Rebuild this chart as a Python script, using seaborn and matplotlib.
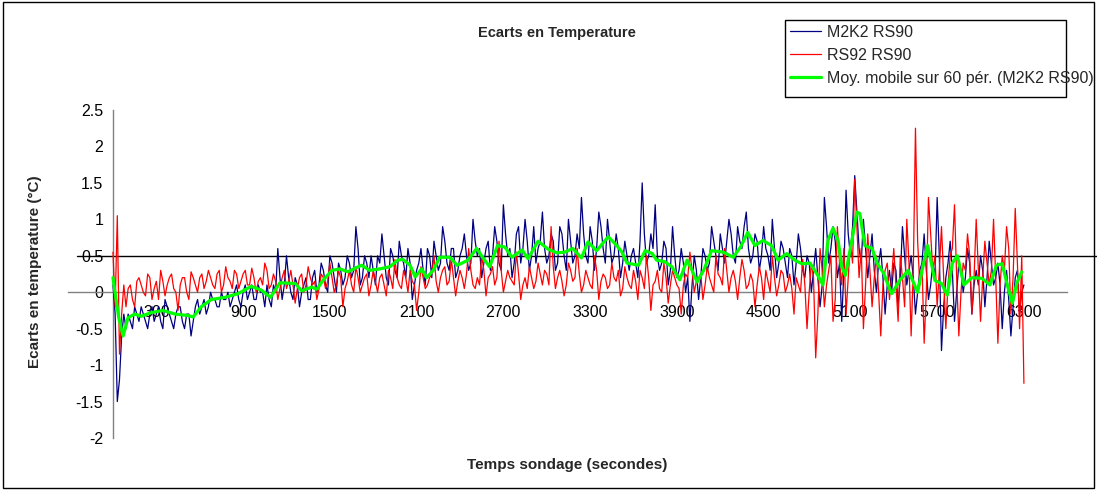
import numpy as np
import pandas as pd
import seaborn as sns
import matplotlib.pyplot as plt
from matplotlib.patches import Rectangle
from matplotlib.ticker import FuncFormatter

# temps (s) : grille principale (15 s au debut, puis 30 s) et points intermediaires
t_sec = [0, 15, 30, 45, 60, 75, 90] + list(range(120, 6301, 30))
t_mid = list(range(105, 6286, 30))

# M2K2 - RS90 (resolution 0.1 degC), grille principale
m2k2 = [0.1, -0.3, -1.5, -1.2, -0.6, -0.3, -0.5,
        # 120 - 570
        -0.4, -0.2, -0.4, -0.3, -0.5, -0.2, -0.3, -0.4, -0.1, -0.3, -0.5, -0.2, -0.4, -0.3, -0.6, -0.2,
        # 600 - 1170
        -0.3, -0.1, -0.2, -0.1, -0.2, 0.0, -0.1, -0.2, 0.0, -0.1, 0.0, -0.1, 0.1, -0.1, 0.0, -0.2, -0.1, 0.1, 0.6, -0.1,
        # 1200 - 1770
        0.5, 0.0, 0.2, -0.2, 0.1, -0.1, 0.2, 0.0, 0.4, 0.1, 0.5, 0.2, 0.4, 0.1, 0.5, 0.2, 0.9, 0.1, 0.5, 0.2,
        # 1800 - 2370
        0.3, 0.5, 0.8, 0.2, 0.6, 0.3, 0.7, 0.4, 0.6, -0.1, 0.3, 0.6, 0.1, 0.5, 0.7, 0.3, 0.9, 0.4, 0.6, 0.2,
        # 2400 - 2970
        0.5, 0.8, 0.3, 1.0, 0.5, 0.2, 0.6, 0.3, 0.9, 0.4, 1.2, 0.5, 0.2, 0.8, 0.4, 1.0, 0.3, 0.9, 0.6, 1.1,
        # 3000 - 3570
        0.4, 0.8, 0.3, 0.9, 0.5, 1.0, 0.4, 0.8, 1.3, 0.5, 0.9, 0.3, 1.1, 0.6, 1.0, 0.4, 0.8, 0.2, 0.7, 0.3,
        # 3600 - 4170
        0.6, 0.2, 1.5, 0.4, 0.8, 1.2, 0.3, 0.7, 0.1, 0.9, 0.2, 0.6, 0.0, -0.4, 0.5, -0.1, 0.6, 0.3, 0.9, 0.5,
        # 4200 - 4770
        0.8, 0.4, 1.0, 0.5, 0.9, 0.6, 1.1, 0.4, 0.8, 0.3, 0.9, 0.5, 1.0, 0.2, 0.7, 0.4, 0.6, 0.1, 0.8, 0.3,
        # 4800 - 5370
        0.5, 0.0, 0.6, -0.2, 1.3, 0.4, 0.9, 0.2, -0.4, 1.4, 0.5, 1.6, 0.6, 1.0, 0.2, 0.8, 0.0, 0.6, -0.3, 0.3,
        # 5400 - 5970
        0.4, -0.2, 0.9, 0.1, 0.5, -0.3, 0.3, 0.8, -0.1, 0.4, 1.3, -0.8, 0.2, 0.7, -0.4, 0.4, 0.0, 0.6, -0.3, 0.3,
        # 6000 - 6300
        0.5, -0.2, 0.7, 0.1, 0.4, -0.5, 0.3, -0.6, 0.2, -0.3, 0.1]

# M2K2 - RS90, points intermediaires (105, 135, ... 6285)
m2k2_mid = [
    # 105 - 555
    -0.3, -0.5, -0.3, -0.2, -0.4, -0.3, -0.4, -0.2, -0.5, -0.2, -0.4, -0.3, -0.2, -0.5, -0.3, -0.4,
    # 585 - 1155
    -0.1, -0.2, -0.3, 0.0, -0.1, -0.2, -0.1, 0.0, -0.1, 0.1, -0.2, 0.1, 0.0, -0.1, 0.1, 0.0, 0.1, -0.2, 0.0, 0.2,
    # 1185 - 1755
    0.1, 0.2, -0.1, 0.1, 0.0, 0.2, -0.1, 0.3, 0.1, 0.3, 0.0, 0.4, 0.0, 0.3, 0.2, 0.4, 0.3, 0.6, 0.2, 0.4,
    # 1785 - 2355
    0.5, 0.1, 0.4, 0.5, 0.1, 0.5, 0.2, 0.5, 0.2, 0.4, 0.1, 0.4, 0.3, 0.6, 0.2, 0.5, 0.4, 0.7, 0.3, 0.6,
    # 2385 - 2955
    0.3, 0.6, 0.5, 0.4, 0.7, 0.6, 0.4, 0.7, 0.5, 0.7, 0.3, 0.8, 0.6, 0.4, 0.9, 0.6, 0.7, 0.5, 0.4, 0.7,
    # 2985 - 3555
    0.6, 0.5, 0.7, 0.4, 0.8, 0.3, 0.7, 0.5, 0.6, 0.8, 0.4, 0.7, 0.6, 0.9, 0.4, 0.7, 0.5, 0.6, 0.4, 0.5,
    # 3585 - 4155
    0.5, 0.4, 0.7, 0.8, 0.5, 0.6, 0.5, 0.4, 0.6, 0.3, 0.5, 0.3, 0.4, 0.2, 0.1, 0.3, 0.2, 0.5, 0.4, 0.7,
    # 4185 - 4755
    0.3, 0.6, 0.7, 0.8, 0.4, 0.7, 0.9, 0.6, 0.5, 0.7, 0.5, 0.6, 0.3, 0.6, 0.4, 0.6, 0.2, 0.5, 0.4, 0.6,
    # 4785 - 5355
    0.2, 0.4, 0.3, 0.2, 0.1, 0.9, 0.6, 0.7, 0.4, 0.3, 0.8, 0.9, 1.1, 0.4, 0.6, 0.5, 0.3, 0.4, 0.2, 0.1,
    # 5385 - 5955
    0.0, 0.3, 0.2, 0.5, 0.3, 0.2, 0.0, 0.4, 0.3, 0.1, 0.2, 0.5, -0.2, 0.4, 0.3, 0.0, 0.3, 0.2, 0.4, 0.1,
    # 5985 - 6285
    0.1, 0.3, 0.2, 0.4, 0.2, 0.1, 0.0, -0.1, -0.2, 0.3, 0.0]

# RS92 - RS90, grille principale
rs92 = [0.55, -0.2, 1.05, -0.85, -0.3, 0.1, -0.2,
        # 120 - 570
        0.1, -0.2, 0.2, 0.0, 0.25, -0.1, 0.15, 0.3, -0.05, 0.2, 0.05, -0.25, 0.2, 0.0, 0.28, 0.1,
        # 600 - 1170
        0.2, 0.05, 0.3, 0.1, 0.25, 0.0, 0.35, 0.15, 0.3, 0.05, 0.25, 0.1, 0.33, 0.0, 0.2, 0.4, 0.05, 0.25, -0.1, 0.2,
        # 1200 - 1770
        0.05, 0.3, -0.15, 0.2, 0.0, 0.35, 0.1, -0.1, 0.25, 0.05, 0.4, 0.0, 0.3, -0.2, 0.15, 0.1, 0.35, 0.0, 0.2, -0.05,
        # 1800 - 2370
        0.3, 0.0, 0.25, -0.05, 0.2, 0.45, 0.1, 0.3, 0.0, 0.15, -0.25, 0.35, 0.05, 0.2, 0.5, 0.0, 0.3, 0.1, 0.45, -0.05,
        # 2400 - 2970
        0.3, 0.05, 0.6, 0.1, 0.2, 0.5, -0.05, 0.25, 0.1, 0.7, 0.0, 0.3, 0.15, 0.55, -0.1, 0.2, 0.35, 0.05, 0.4, 0.1,
        # 3000 - 3570
        0.25, 0.9, 0.05, 0.3, -0.05, 0.4, 0.15, 0.6, 0.0, 0.3, 0.1, 0.5, -0.1, 0.25, 0.05, 0.4, 0.15, -0.05, 0.35, 0.1,
        # 3600 - 4170
        0.3, -0.1, 0.2, 0.5, -0.25, 0.15, 0.05, 0.4, -0.15, 0.3, 0.1, -0.3, 0.25, 0.55, 0.0, 0.2, -0.1, 0.35, 0.1, 0.5,
        # 4200 - 4770
        0.2, 0.6, 0.0, 0.3, -0.1, 0.45, 0.05, 0.25, -0.2, 0.35, -0.1, 0.15, 0.5, -0.05, 0.3, 0.0, 0.25, -0.3, 0.1, 0.45,
        # 4800 - 5370
        -0.5, 0.4, -0.9, 0.6, -0.2, 0.3, -0.4, 0.9, 0.1, -0.3, 0.7, 1.55, 0.2, -0.5, 0.8, -0.2, 0.5, -0.6, 0.3, -0.1,
        # 5400 - 5970
        0.6, -0.4, 0.2, 1.0, -0.6, 2.25, 0.1, -0.7, 1.3, 0.3, -0.2, 0.9, -0.5, 0.5, 1.2, -0.6, 0.4, 0.8, -0.3, 1.0,
        # 6000 - 6300
        -0.4, 0.7, 0.1, 1.0, -0.7, 0.5, 0.9, -0.3, 1.15, -0.5, -1.25]

# RS92 - RS90, points intermediaires
rs92_mid = [
    # 105 - 555
    0.05, -0.1, 0.15, 0.1, -0.05, 0.2, 0.05, -0.1, 0.15, 0.1, 0.25, 0.0, 0.1, 0.2, -0.1, 0.2,
    # 585 - 1155
    0.0, 0.25, 0.15, 0.2, 0.05, 0.3, 0.1, 0.2, 0.05, 0.25, 0.15, 0.3, 0.1, 0.2, 0.15, 0.1, 0.3, 0.1, 0.15, 0.05,
    # 1185 - 1755
    0.3, 0.15, 0.1, 0.05, 0.25, 0.1, 0.2, 0.15, 0.05, 0.2, 0.15, 0.2, 0.1, 0.2, 0.05, 0.3, 0.0, 0.2, 0.1, 0.25,
    # 1785 - 2355
    0.1, 0.15, 0.2, 0.1, 0.3, 0.05, 0.2, 0.05, 0.2, 0.3, 0.1, 0.0, 0.2, 0.1, 0.25, 0.15, 0.2, 0.35, 0.15, 0.2,
    # 2385 - 2955
    0.15, 0.2, 0.25, 0.3, 0.05, 0.1, 0.3, 0.2, 0.35, 0.2, 0.3, 0.15, 0.2, 0.1, 0.25, 0.1, 0.05, 0.2, 0.15, 0.25,
    # 2985 - 3555
    0.3, 0.1, 0.35, 0.2, 0.15, 0.1, 0.3, 0.2, 0.25, 0.1, 0.2, 0.05, 0.3, 0.15, 0.2, 0.1, 0.2, 0.3, 0.05, 0.2,
    # 3585 - 4155
    0.05, 0.15, 0.3, 0.05, 0.2, 0.1, 0.3, 0.0, 0.2, 0.1, 0.2, 0.05, 0.1, 0.2, 0.3, 0.15, 0.25, 0.1, 0.2, 0.0,
    # 4185 - 4755
    0.25, 0.1, 0.3, 0.2, 0.15, 0.2, 0.3, 0.1, 0.15, 0.1, 0.2, 0.3, 0.0, 0.2, 0.1, 0.25, 0.1, 0.05, 0.2, 0.0,
    # 4785 - 5355
    0.1, 0.0, 0.2, -0.3, 0.3, 0.1, 0.5, -0.1, 0.4, 0.6, 0.2, 0.4, 0.9, 0.6, 0.1, 0.3, 0.2, 0.0, 0.1, 0.4,
    # 5385 - 5955
    0.2, 0.1, 0.5, -0.2, 0.4, 0.3, 0.7, 0.4, 0.0, 0.8, 0.5, 0.3, 0.2, 0.1, 0.6, 0.2, 0.0, 0.3, 0.5, 0.2,
    # 5985 - 6285
    0.3, 0.2, 0.4, 0.3, 0.2, 0.1, 0.3, 0.6, 0.2, 0.4, 0.5]

# moyenne mobile sur 60 periodes (M2K2 RS90)
ma_t = [0, 14, 40, 70, 104, 150, 195, 265, 345, 430, 520, 555, 610, 680, 775, 865, 955, 1025, 1090,
        1155, 1260, 1305, 1375, 1410, 1455, 1515, 1570, 1625, 1675, 1720, 1775, 1845, 1915, 1970, 2005,
        2055, 2090, 2135, 2170, 2215, 2260, 2330, 2380, 2415, 2455, 2515, 2560, 2605, 2660, 2710, 2760,
        2830, 2870, 2940, 3010, 3070, 3125, 3180, 3240, 3285, 3345, 3425, 3485, 3520, 3555, 3635, 3680,
        3730, 3760, 3815, 3865, 3920, 3970, 4005, 4040, 4085, 4140, 4220, 4290, 4340, 4390, 4440, 4495,
        4555, 4600, 4660, 4715, 4765, 4820, 4875, 4910, 4945, 4980, 5015, 5040, 5065, 5110, 5145, 5165,
        5200, 5250, 5285, 5330, 5385, 5440, 5500, 5565, 5600, 5635, 5685, 5730, 5770, 5805, 5840, 5885,
        5940, 6010, 6065, 6110, 6150, 6185, 6220, 6250, 6285]
ma_v = [0.2, 0.0, -0.35, -0.6, -0.35, -0.3, -0.33, -0.28, -0.25, -0.3, -0.32, -0.34, -0.2, -0.1, -0.07, -0.02, 0.08, 0.03, -0.07,
        0.13, 0.12, 0.02, 0.07, 0.04, 0.17, 0.3, 0.32, 0.28, 0.33, 0.37, 0.3, 0.32, 0.35, 0.44, 0.45,
        0.37, 0.21, 0.32, 0.2, 0.3, 0.48, 0.48, 0.37, 0.4, 0.44, 0.6, 0.47, 0.35, 0.64, 0.62, 0.48,
        0.58, 0.46, 0.7, 0.59, 0.54, 0.55, 0.6, 0.47, 0.69, 0.57, 0.76, 0.64, 0.55, 0.4, 0.37, 0.57,
        0.53, 0.44, 0.42, 0.35, 0.17, 0.44, 0.3, 0.14, 0.3, 0.57, 0.55, 0.48, 0.62, 0.82, 0.64, 0.71,
        0.64, 0.44, 0.53, 0.44, 0.39, 0.4, 0.23, 0.1, 0.71, 0.88, 0.71, 0.35, 0.23, 0.71, 1.1, 1.08,
        0.64, 0.6, 0.4, 0.26, -0.02, 0.16, 0.3, 0.0, 0.34, 0.64, 0.16, 0.12, -0.04, 0.4, 0.5, 0.1,
        0.2, 0.19, 0.1, 0.37, 0.39, 0.1, -0.15, 0.12, 0.28]

xtick_pos = list(range(300, 6301, 600))
ytick_pos = [-2, -1.5, -1, -0.5, 0, 0.5, 1, 1.5, 2, 2.5]


def main():
    df = pd.concat([
        pd.DataFrame({'t': t_sec, 'M2K2 RS90': m2k2, 'RS92 RS90': rs92}),
        pd.DataFrame({'t': t_mid, 'M2K2 RS90': m2k2_mid, 'RS92 RS90': rs92_mid}),
    ]).sort_values('t').reset_index(drop=True)
    ma = pd.DataFrame({'t': ma_t, 'v': ma_v})

    sns.set_theme(style='white')
    plt.rcParams['font.family'] = ['Liberation Sans', 'DejaVu Sans']

    W, H = 1097, 491
    fig = plt.figure(figsize=(W / 100, H / 100), dpi=100)
    ax = fig.add_axes([68 / W, (H - 438) / H, 999 / W, 328 / H])

    sns.lineplot(data=df, x='t', y='M2K2 RS90', ax=ax, color='#000080', lw=0.9,
                 label='M2K2 RS90', zorder=3)
    sns.lineplot(data=df, x='t', y='RS92 RS90', ax=ax, color='#FF0000', lw=0.9,
                 label='RS92 RS90', zorder=3)
    sns.lineplot(data=ma, x='t', y='v', ax=ax, color='#00FF00', lw=2.3,
                 label='Moy. mobile sur 60 pér. (M2K2 RS90)', zorder=4)

    ax.set_xlim(-311, 6598)
    ax.set_ylim(-2, 2.5)

    # axes en croix, comme dans Excel
    for s in ['top', 'right']:
        ax.spines[s].set_visible(False)
    ax.spines['left'].set_position(('data', 0))
    ax.spines['bottom'].set_position(('data', 0))
    for s in ['left', 'bottom']:
        ax.spines[s].set_color('#808080')
        ax.spines[s].set_linewidth(1.0)

    ax.axhline(0.5, xmin=0.009, xmax=1.03, color='black', lw=1.0, clip_on=False, zorder=2)

    ax.set_xticks(xtick_pos)
    ax.set_xticklabels([str(v) for v in xtick_pos])
    ax.set_yticks(ytick_pos)
    ax.yaxis.set_major_formatter(FuncFormatter(lambda v, p: '{:g}'.format(v)))
    ax.tick_params(axis='both', which='major', labelsize=11.5, colors='black',
                   direction='out', length=3, width=0.8, pad=4)
    ax.tick_params(axis='x', pad=6)
    for t in ax.get_xticklines() + ax.get_yticklines():
        t.set_color('#808080')

    ax.set_xlabel('')
    ax.set_ylabel('')
    ax.grid(False)
    ax.get_legend().remove()

    fig.text(557 / W, 1 - 33 / H, 'Ecarts en Temperature', ha='center', va='center',
             fontsize=10.5, fontweight='bold')
    fig.text(567 / W, 1 - 465 / H, 'Temps sondage (secondes)', ha='center', va='center',
             fontsize=11, fontweight='bold')
    fig.text(35 / W, 1 - 272 / H, 'Ecarts en temperature (°C)', ha='center', va='center',
             rotation=90, fontsize=11, fontweight='bold')

    handles, labels = ax.get_legend_handles_labels()
    fig.legend(handles, labels, loc='upper left', bbox_to_anchor=(785 / W, 1 - 20 / H),
               frameon=False, fontsize=11.5, borderpad=0.3, borderaxespad=0,
               handlelength=1.95, handletextpad=0.4, labelspacing=0.5)
    fig.patches.append(Rectangle((785 / W, 1 - 97 / H), 281 / W, 77 / H, transform=fig.transFigure,
                                 fill=False, ec='black', lw=1.0))
    # cadre du graphique
    fig.patches.append(Rectangle((3 / W, 3 / H), 1091 / W, 486 / H, transform=fig.transFigure,
                                 fill=False, ec='black', lw=1.0))

    fig.savefig('out.png', dpi=100)


if __name__ == '__main__':
    main()
